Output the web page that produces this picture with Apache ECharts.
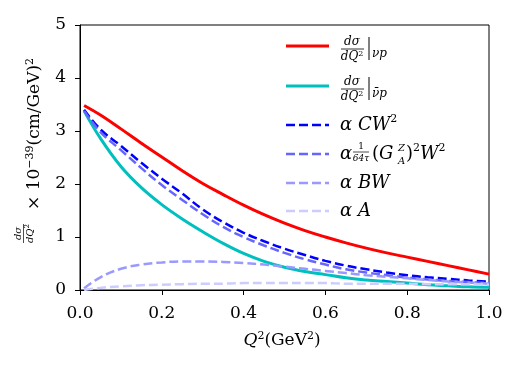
<!DOCTYPE html>
<html><head><meta charset="utf-8">
<script src="https://cdn.jsdelivr.net/npm/echarts@6/dist/echarts.min.js"></script>
<style>html,body{margin:0;padding:0;background:#fff}#c{width:519px;height:371px}</style>
</head><body><div id="c"></div>
<script>
// Q^2 sample points (GeV^2)
const q2 = [0.01,0.05,0.1,0.15,0.2,0.25,0.3,0.35,0.4,0.45,0.5,0.55,0.6,0.65,0.7,0.75,0.8,0.85,0.9,0.95,1.0];
// dσ/dQ² for νp
const nuP = [3.48,3.30,3.04,2.77,2.51,2.25,2.01,1.80,1.60,1.42,1.26,1.12,1.00,0.89,0.79,0.70,0.62,0.54,0.46,0.38,0.30];
// dσ/dQ² for ν̄p
const nubarP = [3.38,2.86,2.33,1.93,1.61,1.34,1.10,0.88,0.69,0.54,0.43,0.35,0.29,0.23,0.19,0.16,0.13,0.10,0.08,0.06,0.05];
// α C W²
const cw2 = [3.40,3.03,2.72,2.40,2.10,1.82,1.52,1.28,1.08,0.92,0.78,0.66,0.55,0.46,0.39,0.33,0.28,0.24,0.21,0.18,0.16];
// α (1/64τ)(G_A^Z)² W²
const ga2w2 = [3.38,2.98,2.64,2.30,1.98,1.70,1.43,1.19,1.00,0.84,0.70,0.58,0.48,0.39,0.33,0.28,0.23,0.20,0.17,0.15,0.13];
// α B W
const bw = [0.03,0.24,0.40,0.48,0.52,0.54,0.54,0.53,0.51,0.48,0.44,0.40,0.36,0.32,0.28,0.25,0.22,0.19,0.16,0.14,0.12];
// α A
const aTerm = [0.00,0.04,0.07,0.09,0.10,0.11,0.12,0.12,0.13,0.13,0.13,0.13,0.13,0.12,0.12,0.12,0.12,0.11,0.11,0.11,0.10];
const xTicks = ['0.0','0.2','0.4','0.6','0.8','1.0'];
const yTicks = ['0','1','2','3','4','5'];

const FF = 'DejaVu Serif';
const colors = {nuP:'#ff0000', nubarP:'#00bfbf', cw2:'#0000ff', ga:'#6666ff', bw:'#9999ff', a:'#ccccff'};
const DASH = [9,4];

function pts(arr){ return q2.map((x,i)=>[x,arr[i]]); }
function mk(name, arr, color, dashed){
  return {name, type:'line', data:pts(arr), smooth:0.4, symbol:'none',
    lineStyle:{color, width: dashed?2.5:3, type: dashed?DASH:'solid', cap:'butt'},
    itemStyle:{color}, silent:true, animation:false, z: 2};
}

function T(x,y,text,o){
  return {type:'text', x, y, silent:true, style:Object.assign({text, fill:'#000', fontFamily:FF, fontSize:17, align:'left', verticalAlign:'middle'}, o||{})};
}
function L(x1,y1,x2,y2,o){
  return {type:'line', silent:true, shape:{x1,y1,x2,y2}, style:Object.assign({stroke:'#000', lineWidth:1}, o||{})};
}
const richBase = {
  i:{fontFamily:FF, fontStyle:'italic', fontSize:18, verticalAlign:'middle', lineHeight:22},
  u:{fontFamily:FF, fontSize:18, verticalAlign:'middle', lineHeight:22},
  s:{fontFamily:FF, fontSize:11, verticalAlign:'top', lineHeight:12},
  si:{fontFamily:FF, fontStyle:'italic', fontSize:11, verticalAlign:'top', lineHeight:12}
};

const g = [];
// legend samples
const legY = [46, 86, 125, 154, 183, 211];
const legC = [colors.nuP, colors.nubarP, colors.cw2, colors.ga, colors.bw, colors.a];
legY.forEach((y,k)=>{
  g.push(L(286,y,329,y,{stroke:legC[k], lineWidth:k<2?3:2.5, lineDash:k<2?null:DASH}));
});
// entry 1 & 2 fractions
function fracLeg(yb, sub){
  g.push(T(352, yb-7, 'dσ', {fontSize:12, fontStyle:'italic', align:'center'}));
  g.push(L(341, yb, 364, yb, {lineWidth:0.8}));
  g.push(T(352, yb+8, '{a|dQ}{b|2}', {align:'center', rich:{a:{fontFamily:FF,fontStyle:'italic',fontSize:12,verticalAlign:'middle',lineHeight:14}, b:{fontFamily:FF,fontSize:8,verticalAlign:'top',lineHeight:9}}}));
  g.push(L(369, yb-12, 369, yb+11, {lineWidth:1}));
  g.push(T(372, yb+5, sub, {fontSize:12, fontStyle:'italic'}));
}
fracLeg(49, 'νp');
fracLeg(89, 'ν\u0304p');
// entry 3
g.push(T(340,125,'{i|α CW}{s|2}',{rich:richBase}));
// entry 4
g.push(T(340,154,'{i|α}',{rich:richBase}));
g.push(T(361,147,'1',{fontSize:9, align:'center'}));
g.push(L(353,152,369,152,{lineWidth:0.7}));
g.push(T(361,159,'64τ',{fontSize:9, align:'center', fontStyle:'italic'}));
g.push(T(372,154,'{u|(}{i|G}',{rich:richBase}));
g.push(T(398,148,'Z',{fontSize:10, fontStyle:'italic'}));
g.push(T(398,161,'A',{fontSize:10, fontStyle:'italic'}));
g.push(T(406,154,'{u|)}{s|2}{i|W}{s|2}',{rich:richBase}));
// entry 5, 6
g.push(T(340,183,'{i|α BW}',{rich:richBase}));
g.push(T(340,211,'{i|α A}',{rich:richBase}));

// x axis name
g.push(T(282,341,'{i|Q}{s|2}{u|(GeV}{s|2}{u|)}',{align:'center', rich:{
  i:{fontFamily:FF, fontStyle:'italic', fontSize:17, verticalAlign:'middle', lineHeight:21},
  u:{fontFamily:FF, fontSize:17, verticalAlign:'middle', lineHeight:21},
  s:{fontFamily:FF, fontSize:11, verticalAlign:'top', lineHeight:12}}}));

// y axis name (rotated group)
g.push({type:'group', x:35, y:150, rotation:Math.PI/2, silent:true, children:[
  T(-83.5,-17,'dσ',{fontSize:10, fontStyle:'italic', align:'center'}),
  L(-93,-11.5,-74,-11.5,{lineWidth:0.7}),
  T(-83.5,-5,'{a|dQ}{b|2}',{align:'center', rich:{a:{fontFamily:FF,fontStyle:'italic',fontSize:10,verticalAlign:'middle',lineHeight:12}, b:{fontFamily:FF,fontSize:7,verticalAlign:'top',lineHeight:8}}}),
  T(-60,0,'{n|× 10}{s|−39}{n|(cm/GeV)}{s|2}',{rich:{
    n:{fontFamily:FF, fontSize:17, verticalAlign:'middle', lineHeight:21},
    s:{fontFamily:FF, fontSize:11, verticalAlign:'top', lineHeight:12}}})
]});

const chart = echarts.init(document.getElementById('c'), null, {renderer:'canvas'});
chart.setOption({
  animation:false,
  backgroundColor:'#fff',
  grid:{left:80, right:30, top:25, bottom:81, show:true, borderColor:'#000', borderWidth:1, backgroundColor:'transparent'},
  xAxis:{type:'value', min:0, max:1, interval:0.2,
    axisLine:{show:true, lineStyle:{color:'#000', width:1}},
    axisTick:{show:true, length:5, inside:false, lineStyle:{color:'#000', width:1}},
    axisLabel:{margin:15, color:'#000', fontFamily:FF, fontSize:17,
      formatter:(v)=>xTicks[Math.round(v/0.2)]},
    splitLine:{show:false}},
  yAxis:{type:'value', min:0, max:5, interval:1,
    axisLine:{show:true, lineStyle:{color:'#000', width:1}},
    axisTick:{show:true, length:5, inside:false, lineStyle:{color:'#000', width:1}},
    axisLabel:{margin:14, color:'#000', fontFamily:FF, fontSize:17,
      formatter:(v)=>yTicks[Math.round(v)]},
    splitLine:{show:false}},
  series:[
    mk('nuP', nuP, colors.nuP, false),
    mk('nubarP', nubarP, colors.nubarP, false),
    mk('cw2', cw2, colors.cw2, true),
    mk('ga2w2', ga2w2, colors.ga, true),
    mk('bw', bw, colors.bw, true),
    mk('a', aTerm, colors.a, true)
  ],
  graphic:g
});
</script></body></html>
